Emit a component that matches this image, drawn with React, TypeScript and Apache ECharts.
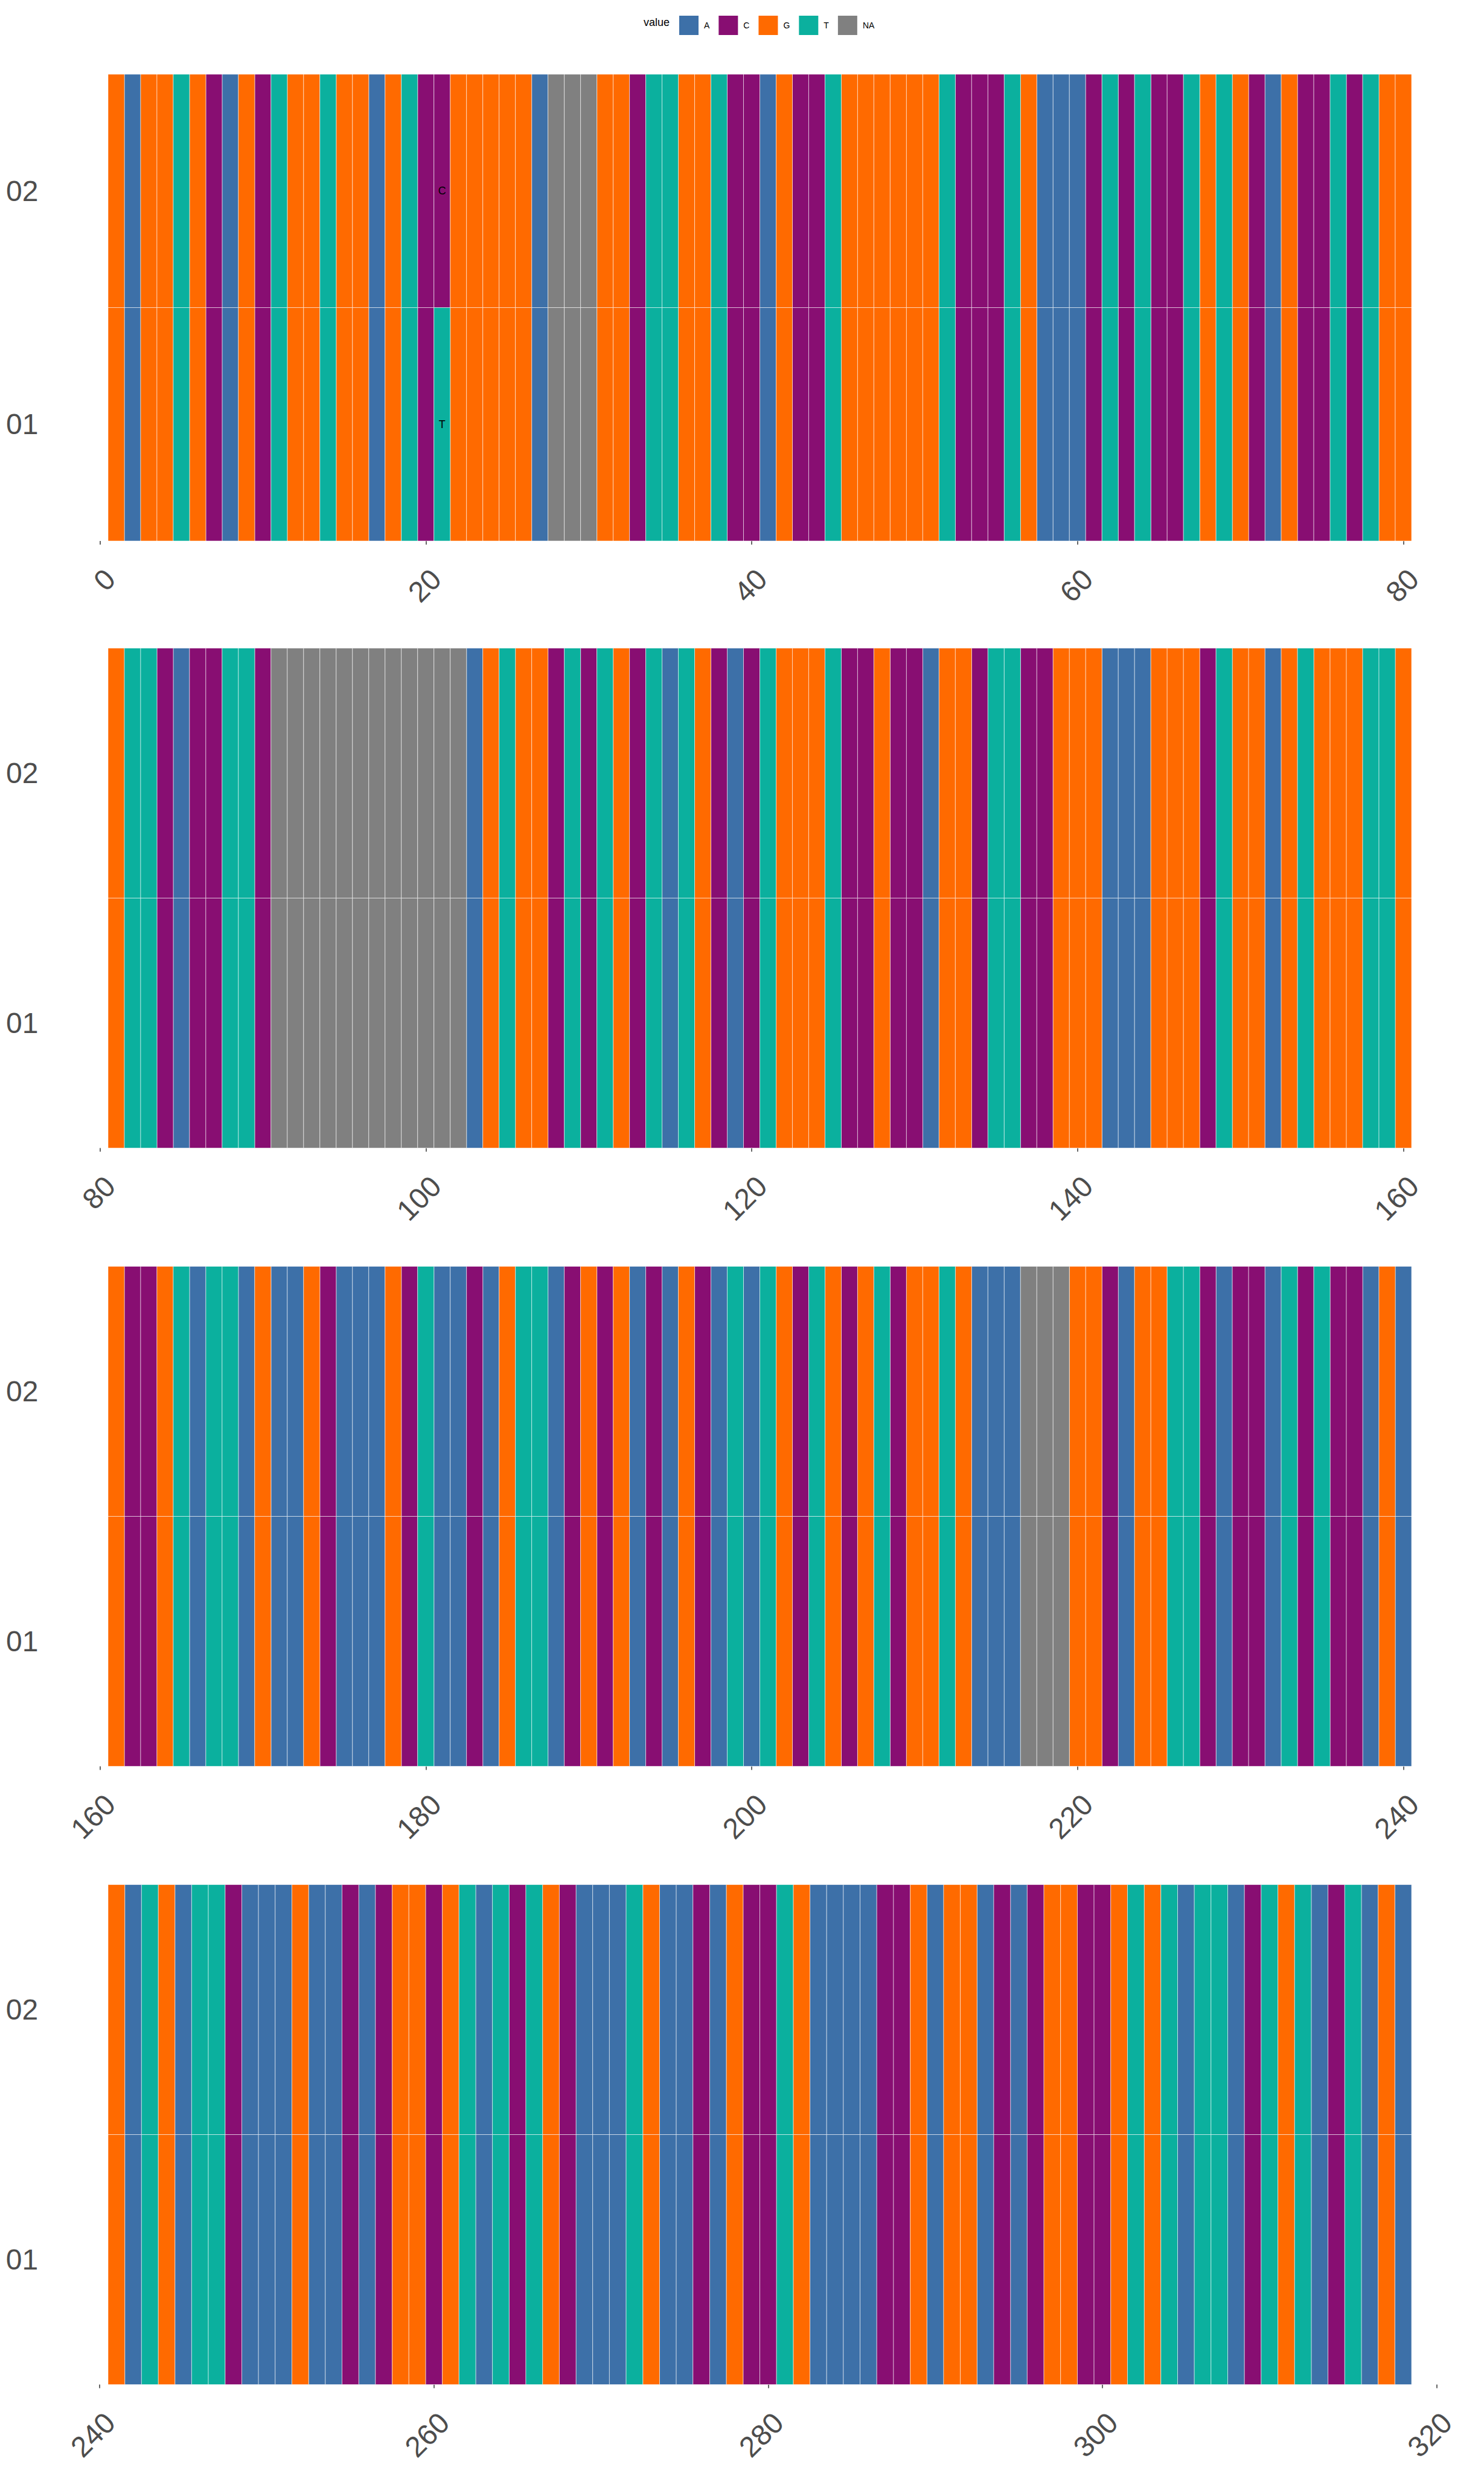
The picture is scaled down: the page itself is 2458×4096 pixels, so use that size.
import React, { useEffect, useRef } from 'react';
import * as echarts from 'echarts';

// ---------- data ----------
const rowLabels = ['01', '02'];
const baseNames = ['A', 'C', 'G', 'T', 'NA'];
const baseCodes = ['A', 'C', 'G', 'T', 'N'];
const baseColors = ['#3D70A8', '#880E72', '#FF6A00', '#0BB09E', '#808080'];

// reference sequence (row "02"), one array per panel, N = NA
const seqPanel1 = ['GAGGTGCAGC', 'TGGTGGAGTC', 'CGGGGGANNN', 'GGCTTGGTCC', 'AGCCTGGGGG', 'GTCCCTGAAA', 'CTCTCCTGTG', 'CAGCCTCTGG'];
const seqPanel2 = ['GTTCACCTTC', 'NNNNNNNNNN', 'NNAGTGGCTC', 'TGCTATGCAC', 'TGGGTCCGCC', 'AGGCTTCCGG', 'GAAAGGGCTG', 'GAGTGGGTTG'];
const seqPanel3 = ['GCCGTATTAG', 'AAGCAAAGCT', 'AACAGTTACG', 'CGACAGCATA', 'TGCTGCGTCG', 'GTGAAANNNG', 'GCAGGTTCAC', 'CATCTCCAGA'];
const seqPanel4 = ['GATGATTCAA', 'AGAACACGGC', 'GTATCTGCAA', 'ATGAACAGCC', 'TGAAAACCGA', 'GGACACGGCC', 'GTGTATTACT', 'GTACTAGA'];
const panelSeqs = [seqPanel1, seqPanel2, seqPanel3, seqPanel4];
const panelStarts = [1, 81, 161, 241];

// positions where row "01" differs from row "02"
const variantPositions = [21];
const variantRow01 = ['T'];

// x axis ticks
const axisMins = [0, 80, 160, 240];
const axisMaxs = [81, 161, 241, 320];
const tickStep = 20;

// ---------- layout (px) ----------
const W = 2458;
const H = 4096;
const tilesLeft = 179;
const tilesRight = 2338;
const panelTops = [123, 1073.5, 2097.5, 3121.5];
const panelHeights = [773, 828, 828, 828];
const FONT = '"Liberation Sans", Arial, Helvetica, sans-serif';

function buildOption() {
  const grids: any[] = [];
  const xAxes: any[] = [];
  const yAxes: any[] = [];
  const series: any[] = [];

  panelSeqs.forEach((chunks, p) => {
    const seq = chunks.join('').split('');
    const n = seq.length;
    const start = panelStarts[p];
    const w = (tilesRight - tilesLeft) / n;
    const left = tilesLeft - (start - 0.5 - axisMins[p]) * w;
    const width = (axisMaxs[p] - axisMins[p]) * w;
    grids.push({
      left,
      top: panelTops[p],
      width,
      height: panelHeights[p],
      containLabel: false,
      outerBoundsMode: 'none',
    });
    xAxes.push({
      type: 'value',
      gridIndex: p,
      min: axisMins[p],
      max: axisMaxs[p],
      interval: tickStep,
      axisLine: { show: false },
      splitLine: { show: false },
      axisTick: { show: true, length: 6, lineStyle: { color: '#333333', width: 1.5 } },
      axisLabel: {
        rotate: 45,
        margin: 38,
        align: 'right',
        verticalAlign: 'top',
        fontSize: 48,
        color: '#4D4D4D',
        fontFamily: FONT,
        showMinLabel: true,
        showMaxLabel: axisMaxs[p] % tickStep === 0,
        formatter: (v: number) => (v % tickStep === 0 ? String(v) : ''),
      },
    });
    yAxes.push({
      type: 'category',
      gridIndex: p,
      data: rowLabels,
      axisLine: { show: false },
      axisTick: { show: false },
      splitLine: { show: false },
      axisLabel: { fontSize: 48, color: '#4D4D4D', fontFamily: FONT, margin: 102 },
    });

    baseCodes.forEach((code, b) => {
      const data: number[][] = [];
      seq.forEach((ref, i) => {
        const pos = start + i;
        const vi = variantPositions.indexOf(pos);
        for (let r = 0; r < 2; r++) {
          const val = r === 0 && vi >= 0 ? variantRow01[vi] : ref;
          if (val === code) data.push([pos, r, vi >= 0 ? 1 : 0]);
        }
      });
      const color = baseColors[b];
      const letter = baseNames[b];
      series.push({
        type: 'custom',
        name: baseNames[b],
        xAxisIndex: p,
        yAxisIndex: p,
        itemStyle: { color },
        encode: { x: 0, y: 1 },
        data,
        renderItem: (params: any, api: any) => {
          const x = api.value(0);
          const y = api.value(1);
          const a = api.coord([x - 0.5, y]);
          const c = api.coord([x + 0.5, y]);
          const h = api.size([0, 1])[1];
          const rect = {
            type: 'rect',
            shape: { x: a[0], y: a[1] - h / 2, width: c[0] - a[0], height: h },
            style: { fill: color, stroke: 'rgba(255,255,255,0.55)', lineWidth: 1 },
          };
          if (api.value(2) === 1) {
            return {
              type: 'group',
              children: [
                rect,
                {
                  type: 'text',
                  x: (a[0] + c[0]) / 2,
                  y: a[1],
                  style: {
                    text: letter,
                    fill: '#000000',
                    fontSize: 18,
                    fontFamily: FONT,
                    align: 'center',
                    verticalAlign: 'middle',
                    textAlign: 'center',
                    textVerticalAlign: 'middle',
                  },
                },
              ],
            };
          }
          return rect;
        },
      });
    });
  });

  return {
    animation: false,
    backgroundColor: '#ffffff',
    textStyle: { fontFamily: FONT },
    grid: grids,
    xAxis: xAxes,
    yAxis: yAxes,
    legend: {
      data: baseNames,
      left: 1120,
      top: 21,
      itemWidth: 32,
      itemHeight: 32,
      itemGap: 15,
      icon: 'rect',
      selectedMode: false,
      textStyle: { fontSize: 14, color: '#000000', fontFamily: FONT, padding: [0, 0, 0, 4] },
    },
    graphic: [
      {
        type: 'text',
        left: 1066,
        top: 28,
        style: { text: 'value', fontSize: 18, fill: '#000000', fontFamily: FONT },
      },
    ],
    series,
  };
}

export default function App() {
  const ref = useRef<HTMLDivElement>(null);
  useEffect(() => {
    document.body.style.margin = '0';
    if (!ref.current) return;
    const chart = echarts.init(ref.current, undefined, { renderer: 'svg' });
    chart.setOption(buildOption() as any);
    return () => chart.dispose();
  }, []);
  return <div ref={ref} style={{ width: W, height: H }} />;
}
